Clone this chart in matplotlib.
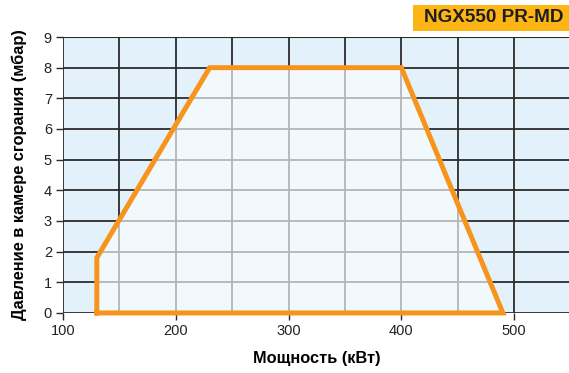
import numpy as np
import matplotlib.pyplot as plt
from matplotlib.patches import Polygon, Rectangle

plt.rcParams['font.family'] = ['Liberation Sans', 'DejaVu Sans']

# working field envelope of the burner
power_kw = [130, 130, 230, 400, 490, 130]
pressure_mbar = [0, 1.8, 8, 8, 0, 0]

x_ticks = [100, 200, 300, 400, 500]
y_ticks = list(range(0, 10))
x_grid = np.arange(100, 551, 50)
y_grid = np.arange(0, 10, 1)

title = 'NGX550 PR-MD'
x_label = 'Мощность (кВт)'
y_label = 'Давление в камере сгорания (мбар)'

fig = plt.figure(figsize=(5.69, 3.73), dpi=100)
ax = fig.add_axes([0.1107, 0.161, 0.892, 0.7398])
ax.set_xlim(100, 550)
ax.set_ylim(0, 9)
ax.set_facecolor('#e3f2fa')
for s in ax.spines.values():
    s.set_visible(False)

# dark grid outside the working field
for xv in x_grid:
    ax.axvline(xv, color='#2b2b2b', lw=1.3, zorder=1)
for yv in y_grid:
    ax.axhline(yv, color='#2b2b2b', lw=1.3, zorder=1)
ax.axhline(9, color='#2b2b2b', lw=1.5, zorder=1)

# working field
poly = Polygon(list(zip(power_kw, pressure_mbar)), closed=True,
               facecolor='#f1f9fd', edgecolor='none', zorder=2)
ax.add_patch(poly)
for xv in x_grid:
    ln = ax.axvline(xv, color='#b5b5b5', lw=1.3, zorder=3)
    ln.set_clip_path(poly)
for yv in y_grid:
    ln = ax.axhline(yv, color='#b5b5b5', lw=1.3, zorder=3)
    ln.set_clip_path(poly)
ax.plot(power_kw, pressure_mbar, color='#f7941d', lw=3.6,
        solid_joinstyle='miter', zorder=4, clip_on=False)

ax.set_xticks(x_ticks)
ax.set_yticks(y_ticks)
ax.tick_params(axis='both', length=5, width=1, color='#2b2b2b',
               labelsize=10.5, labelcolor='#222222', pad=3)

ax.set_xlabel(x_label, fontsize=11.8, fontweight='bold', labelpad=9)
ax.set_ylabel(y_label, fontsize=11.8, fontweight='bold', labelpad=12)

# title badge
fig.patches.append(Rectangle((413 / 569, 1 - 31 / 373), 156 / 569, 26 / 373,
                             transform=fig.transFigure, facecolor='#fdb515',
                             edgecolor='none'))
fig.text(563 / 569, 1 - 18 / 373, title, ha='right', va='center',
         fontsize=13.6, fontweight='bold', color='#1e1e1e')

fig.savefig('out.png', dpi=100)
